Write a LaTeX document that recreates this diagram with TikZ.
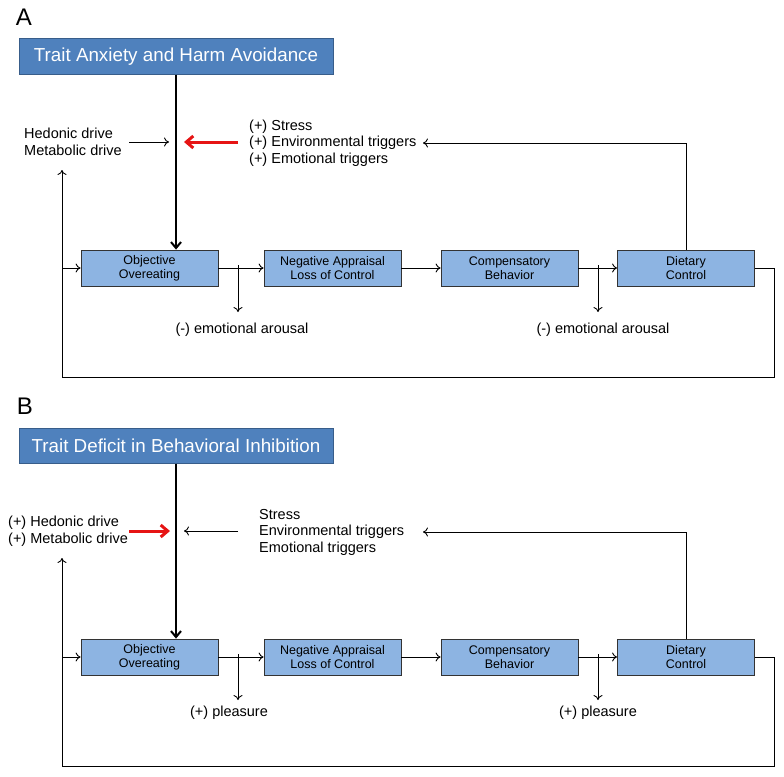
\documentclass[tikz,border=0pt]{standalone}
\usepackage{fontspec}
\setmainfont{Liberation Sans}
\usetikzlibrary{arrows.meta}
\definecolor{traitfill}{RGB}{79,129,189}
\definecolor{traitdraw}{RGB}{56,93,138}
\definecolor{boxfill}{RGB}{141,180,226}
\definecolor{arrred}{RGB}{230,20,20}
\tikzset{
  trait/.style={draw=traitdraw, line width=1pt, fill=traitfill, text=white, minimum width=314pt, minimum height=35pt, inner sep=0pt, font=\fontsize{18.8}{20}\selectfont},
  proc/.style={draw=black!80, line width=0.8pt, fill=boxfill, minimum width=137pt, minimum height=36pt, inner sep=0pt, align=center, font=\fontsize{12.5}{14}\selectfont},
  lbl/.style={inner sep=0pt, align=left, font=\fontsize{14.5}{16.5}\selectfont},
  thin/.style={line width=0.9pt, -{To[length=5pt,width=9pt]}},
  plain/.style={line width=0.9pt},
  thick/.style={line width=2pt, -{Straight Barb[length=6pt,width=10pt]}},
  redarr/.style={draw=arrred, line width=3pt, -{Straight Barb[length=7pt,width=12pt]}},
  panel/.style={inner sep=0pt, font=\fontsize{24}{26}\selectfont}
}
\begin{document}
\begin{tikzpicture}[x=1pt,y=-1pt]
\useasboundingbox (0,0) rectangle (784,776);
% ---------- Panel A ----------
\node[panel] (lA) at (24,17) {A};
\node[trait] (tA) at (176,56.5) {Trait Anxiety and Harm Avoidance};
\node[proc] (a1) at (149.5,268) {Objective\\Overeating};
\node[proc] (a2) at (332.5,268) {Negative Appraisal\\Loss of Control};
\node[proc] (a3) at (509.5,268) {Compensatory\\Behavior};
\node[proc] (a4) at (686,268) {Dietary\\Control};
\node[lbl, anchor=west] (hA) at (24,142) {Hedonic drive\\Metabolic drive};
\node[lbl, anchor=west] (sA) at (249,143) {(+) Stress\\(+) Environmental triggers\\(+) Emotional triggers};
\node[lbl] (eA1) at (242,330) {(-) emotional arousal};
\node[lbl] (eA2) at (603,330) {(-) emotional arousal};
\coordinate (jAl) at (169,142);
\coordinate (jAr) at (184,142);
\coordinate (fbA) at (686,143);
\coordinate (fbAe) at (423,143);
\coordinate (lpA1) at (62,377);
\coordinate (lpA2) at (62,170);
\coordinate (lpA3) at (774,377);
\coordinate (lpA4) at (774,268);
\coordinate (lpA5) at (62,268);
\coordinate (dA1) at (238,268);
\coordinate (dA1e) at (238,312);
\coordinate (dA2) at (598,268);
\coordinate (dA2e) at (598,312);
\draw[thick] (tA.south) -- (tA.south |- a1.north);
\draw[thin] (129,142) -- (jAl);
\draw[redarr] (238,142) -- (jAr);
\draw[plain] (a4.north) -- (fbA);
\draw[thin] (fbA) -- (fbAe);
\draw[thin] (a1) -- (a2);
\draw[thin] (a2) -- (a3);
\draw[thin] (a3) -- (a4);
\draw[thin] ([yshift=3pt]dA1) -- (dA1e);
\draw[thin] ([yshift=3pt]dA2) -- (dA2e);
\draw[plain] (a4.east) -- (lpA4) -- (lpA3) -- (lpA1);
\draw[thin] (lpA1) -- (lpA2);
\draw[thin] (lpA5) -- (a1.west);
% ---------- Panel B ----------
\node[panel] (lB) at (25,406) {B};
\node[trait] (tB) at (176,445.5) {Trait Deficit in Behavioral Inhibition};
\node[proc] (b1) at (149.5,657) {Objective\\Overeating};
\node[proc] (b2) at (332.5,657) {Negative Appraisal\\Loss of Control};
\node[proc] (b3) at (509.5,657) {Compensatory\\Behavior};
\node[proc] (b4) at (686,657) {Dietary\\Control};
\node[lbl, anchor=west] (hB) at (8,531) {(+) Hedonic drive\\(+) Metabolic drive};
\node[lbl, anchor=west] (sB) at (259,532) {Stress\\Environmental triggers\\Emotional triggers};
\node[lbl] (eB1) at (229,713) {(+) pleasure};
\node[lbl] (eB2) at (598,713) {(+) pleasure};
\coordinate (jBl) at (170,531);
\coordinate (jBr) at (184,531);
\coordinate (fbB) at (686,532);
\coordinate (fbBe) at (423,532);
\coordinate (lpB1) at (62,766);
\coordinate (lpB2) at (62,558);
\coordinate (lpB3) at (774,766);
\coordinate (lpB4) at (774,657);
\coordinate (lpB5) at (62,657);
\coordinate (dB1) at (238,657);
\coordinate (dB1e) at (238,700);
\coordinate (dB2) at (598,657);
\coordinate (dB2e) at (598,700);
\draw[thick] (tB.south) -- (tB.south |- b1.north);
\draw[redarr] (129,531) -- (jBl);
\draw[thin] (238,531) -- (jBr);
\draw[plain] (b4.north) -- (fbB);
\draw[thin] (fbB) -- (fbBe);
\draw[thin] (b1) -- (b2);
\draw[thin] (b2) -- (b3);
\draw[thin] (b3) -- (b4);
\draw[thin] ([yshift=3pt]dB1) -- (dB1e);
\draw[thin] ([yshift=3pt]dB2) -- (dB2e);
\draw[plain] (b4.east) -- (lpB4) -- (lpB3) -- (lpB1);
\draw[thin] (lpB1) -- (lpB2);
\draw[thin] (lpB5) -- (b1.west);
\end{tikzpicture}
\end{document}
